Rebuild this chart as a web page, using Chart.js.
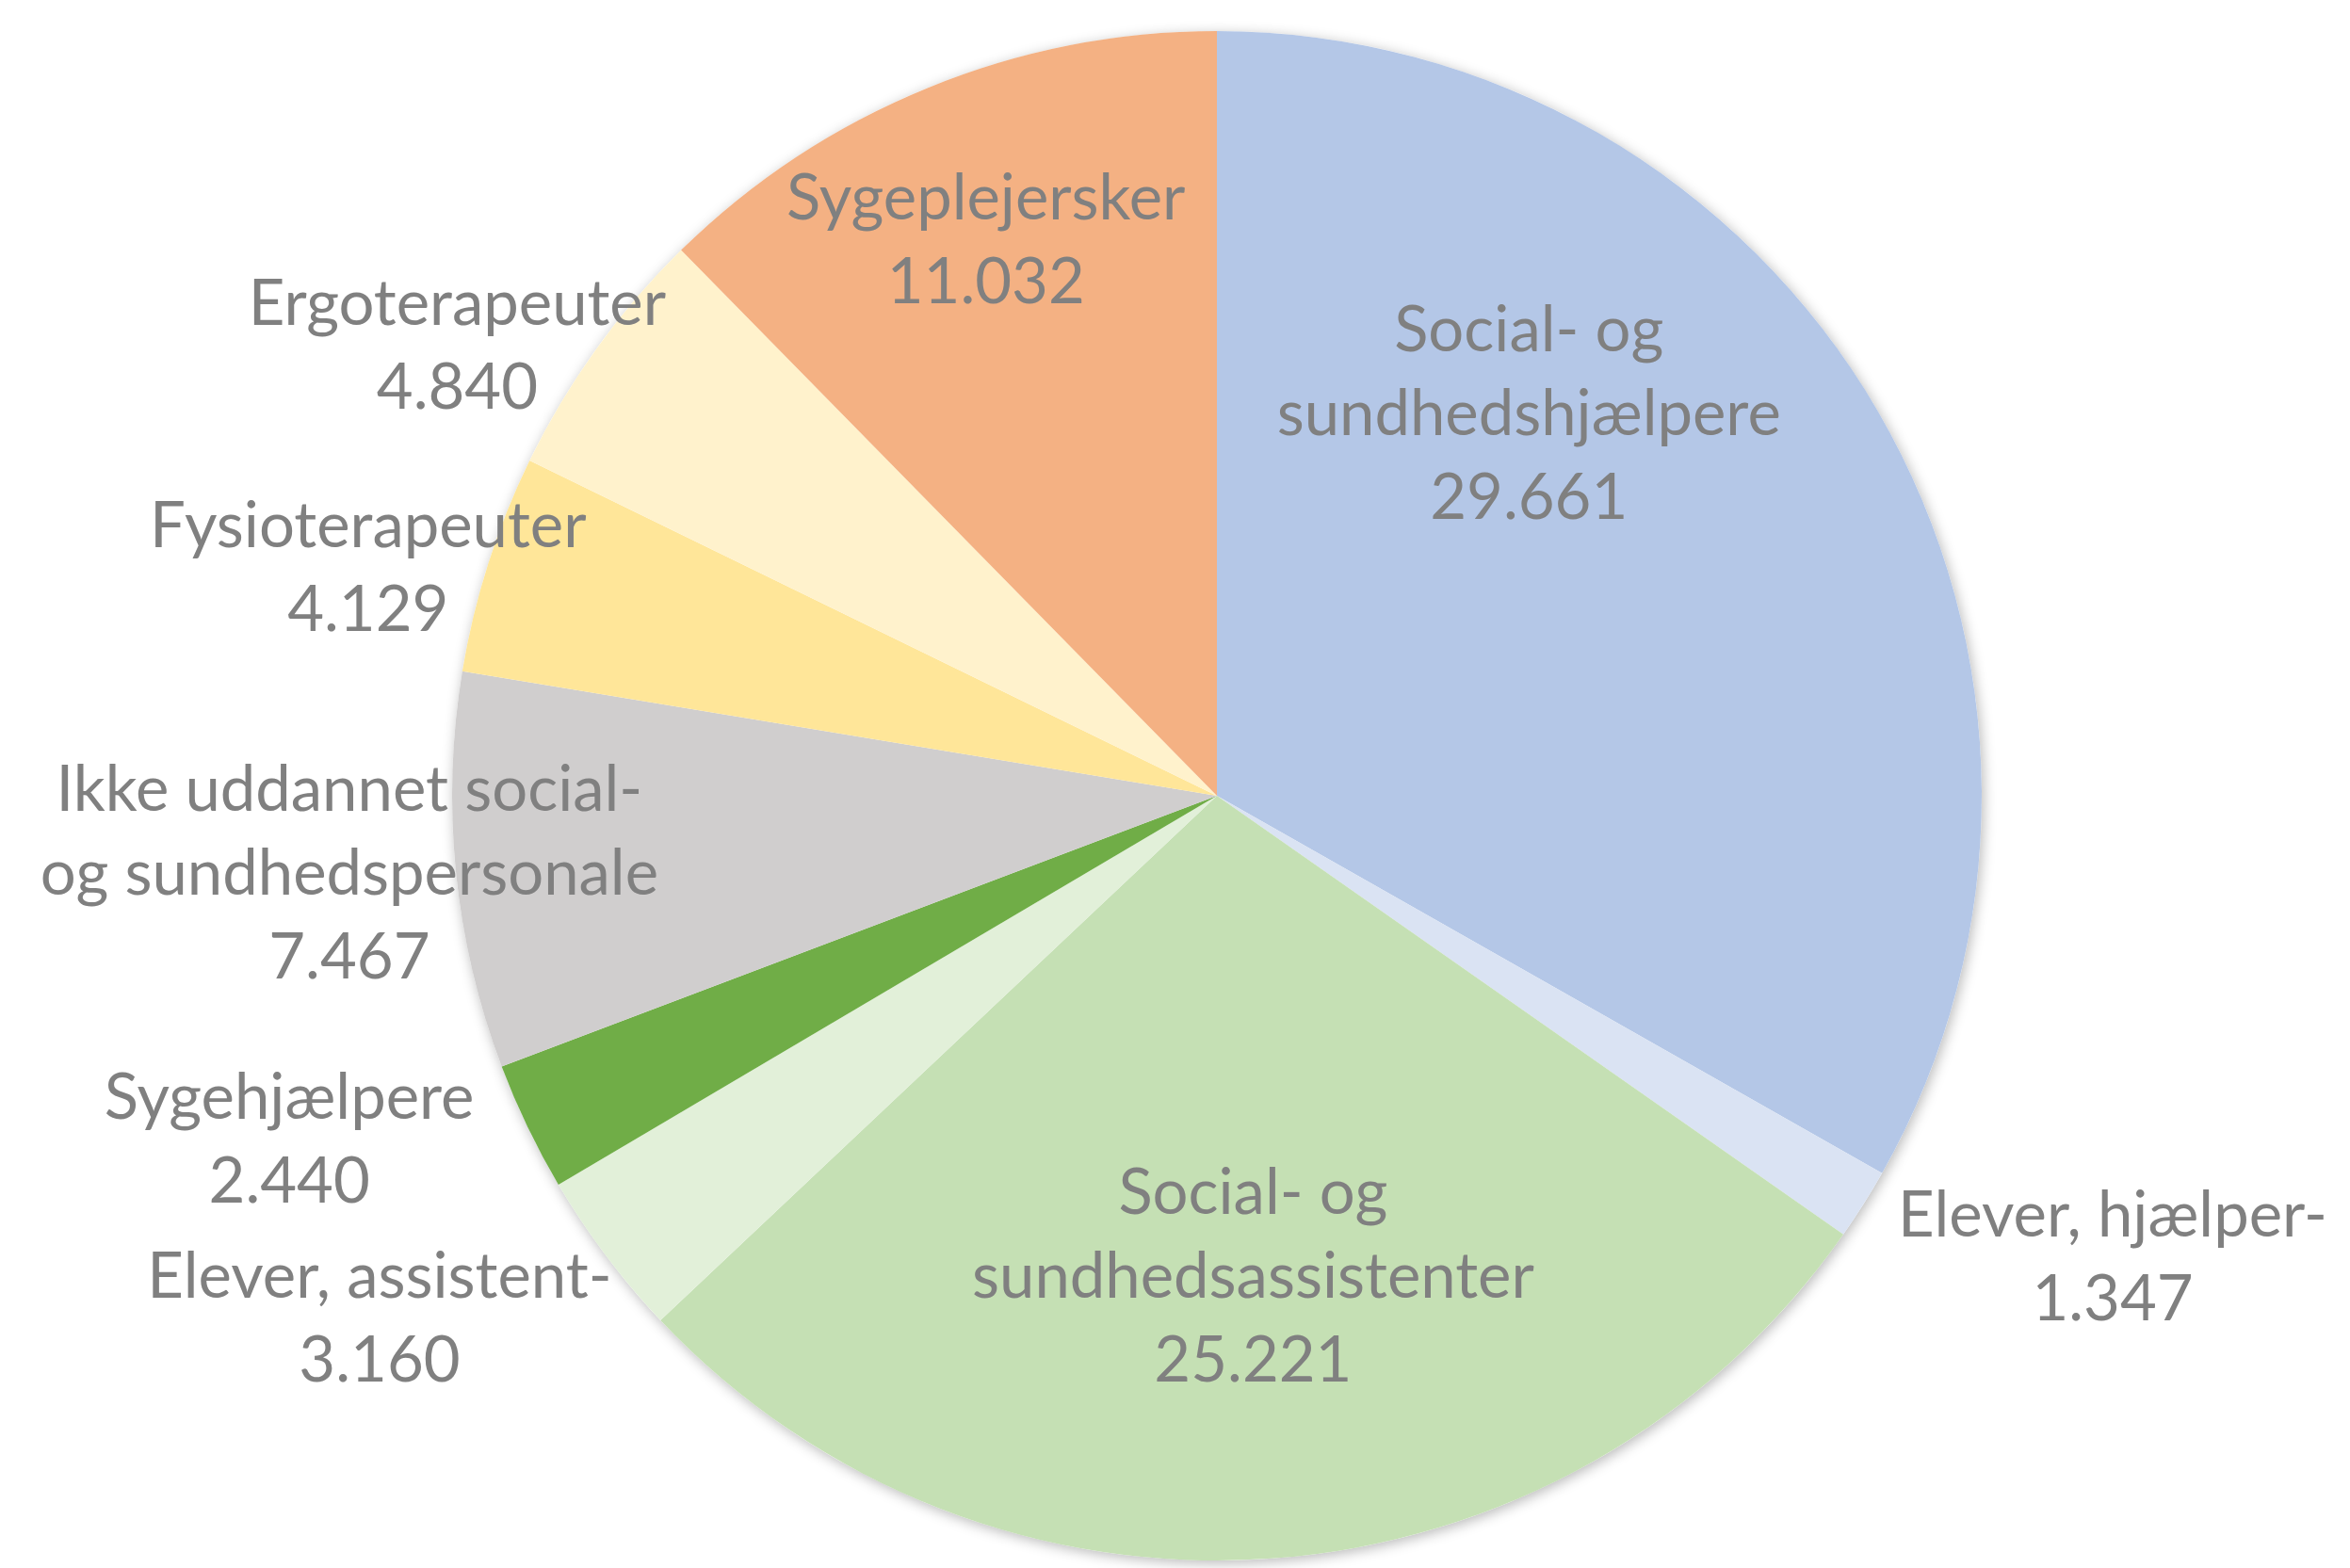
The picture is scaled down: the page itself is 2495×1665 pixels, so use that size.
<!DOCTYPE html>
<html>
<head>
<meta charset="utf-8">
<script src="https://cdn.jsdelivr.net/npm/chart.js@4.4.1/dist/chart.umd.min.js"></script>
<style>
  html, body { margin: 0; padding: 0; background: #ffffff; }
  #wrap { width: 2495px; height: 1665px; position: relative; }
</style>
</head>
<body>
<div id="wrap"><canvas id="c" width="2495" height="1665"></canvas></div>
<script>
// ---- data ----
const categories = [
  ["Social- og", "sundhedshjælpere"],
  ["Elever, hjælper-"],
  ["Social- og", "sundhedsassistenter"],
  ["Elever, assistent-"],
  ["Sygehjælpere"],
  ["Ikke uddannet social-", "og sundhedspersonale"],
  ["Fysioterapeuter"],
  ["Ergoterapeuter"],
  ["Sygeplejersker"]
];
const values = [29661, 1347, 25221, 3160, 2440, 7467, 4129, 4840, 11032];
const valueLabels = ["29.661", "1.347", "25.221", "3.160", "2.440", "7.467", "4.129", "4.840", "11.032"];
const colors = ["#B4C7E7", "#DAE3F3", "#C5E0B4", "#E2F0D9", "#70AD47", "#D0CECE", "#FFE699", "#FFF2CC", "#F4B183"];

// label placement (polar, relative to pie centre & radius): angle clockwise from top (deg), radius factor
const labelAngle = [39.3, 117.3, 175.7, 238.0, 249.6, 264.85, 285.0, 300.6, 337.4];
const labelRadius = [0.644, 1.318, 0.631, 1.291, 1.294, 1.139, 1.149, 1.154, 0.786];

const labelPlugin = {
  id: 'sliceLabels',
  afterDatasetsDraw(chart) {
    const ctx = chart.ctx;
    const meta = chart.getDatasetMeta(0);
    const fontSize = 67, lineH = 89;
    ctx.save();
    ctx.font = fontSize + 'px Lato';
    ctx.fillStyle = '#808080';
    ctx.textAlign = 'center';
    ctx.textBaseline = 'middle';
    meta.data.forEach((arc, i) => {
      const cx = arc.x, cy = arc.y, r = arc.outerRadius;
      const th = labelAngle[i] * Math.PI / 180;
      const d = labelRadius[i] * r;
      const px = cx + d * Math.sin(th);
      const py = cy - d * Math.cos(th);
      const lines = categories[i].concat([valueLabels[i]]);
      const top = py - (lines.length - 1) * lineH / 2;
      lines.forEach((t, k) => ctx.fillText(t, px, top + k * lineH));
    });
    ctx.restore();
  }
};

const shadowPlugin = {
  id: 'pieShadow',
  beforeDatasetsDraw(chart) {
    const meta = chart.getDatasetMeta(0);
    if (!meta.data.length) return;
    const a = meta.data[0];
    const ctx = chart.ctx;
    ctx.save();
    ctx.shadowColor = 'rgba(0,0,0,0.28)';
    ctx.shadowBlur = 14;
    ctx.shadowOffsetX = 2;
    ctx.shadowOffsetY = 3;
    ctx.fillStyle = '#ffffff';
    ctx.beginPath();
    ctx.arc(a.x, a.y, a.outerRadius, 0, Math.PI * 2);
    ctx.fill();
    ctx.restore();
  }
};

new Chart(document.getElementById('c'), {
  type: 'pie',
  data: {
    labels: categories.map(c => c.join(' ')),
    datasets: [{
      data: values,
      backgroundColor: colors,
      borderWidth: 0
    }]
  },
  options: {
    responsive: false,
    animation: false,
    layout: { padding: { top: 33, bottom: 8, left: 480, right: 391 } },
    plugins: {
      legend: { display: false },
      tooltip: { enabled: false }
    }
  },
  plugins: [shadowPlugin, labelPlugin]
});
</script>
</body>
</html>
